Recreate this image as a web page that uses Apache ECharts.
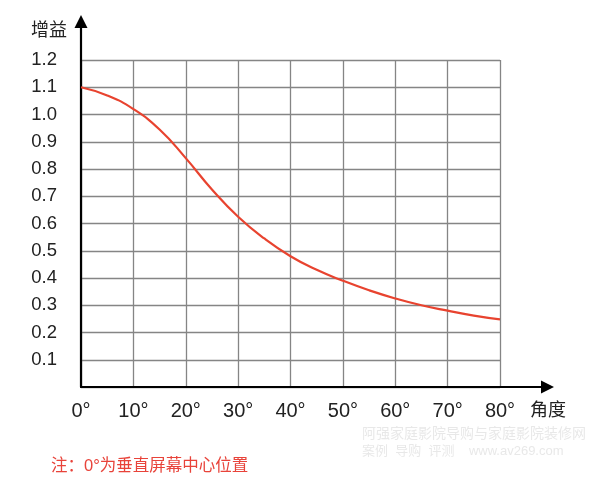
<!DOCTYPE html>
<html>
<head>
<meta charset="utf-8">
<script src="https://cdn.jsdelivr.net/npm/echarts@6/dist/echarts.min.js"></script>
<style>html,body{margin:0;padding:0;background:#fff}#c{width:603px;height:477px}</style>
</head>
<body>
<div id="c"></div>
<script>
var angles = [0, 5, 10, 15, 20, 25, 30, 35, 40, 45, 50, 55, 60, 65, 70, 75, 80];
var gains = [1.10, 1.07, 1.02, 0.945, 0.84, 0.725, 0.625, 0.545, 0.48, 0.43, 0.39, 0.355, 0.325, 0.30, 0.28, 0.262, 0.248];
var yTitle = '增益';
var xTitle = '角度';
var note = '注：0°为垂直屏幕中心位置';
var watermark1 = '阿强家庭影院导购与家庭影院装修网';
var watermark2 = '案例  导购  评测    www.av269.com';

var font = '"Liberation Sans", Arial, "Noto Sans CJK SC", sans-serif';
var chart = echarts.init(document.getElementById('c'), null, {renderer: 'canvas'});
chart.setOption({
  animation: false,
  backgroundColor: '#fff',
  title: [
    {text: yTitle, left: 26, top: 17, textStyle: {fontFamily: font, fontSize: 18, fontWeight: 'normal', color: '#222'}},
    {text: xTitle, left: 525, top: 397, textStyle: {fontFamily: font, fontSize: 18, fontWeight: 'normal', color: '#222'}},
    {text: note, left: 46, top: 453, textStyle: {fontFamily: font, fontSize: 16.5, fontWeight: 'normal', color: '#e8433a'}},
    {text: watermark1, left: 357, top: 422, textStyle: {fontFamily: font, fontSize: 14, fontWeight: 'normal', color: 'rgba(205,205,205,0.45)'}},
    {text: watermark2, left: 357, top: 440, textStyle: {fontFamily: font, fontSize: 13, fontWeight: 'normal', color: 'rgba(205,205,205,0.45)'}}
  ],
  grid: [
    {left: 81, right: 103, top: 60, bottom: 90},
    {left: 81, right: 55.5, top: 21.5, bottom: 90}
  ],
  xAxis: [
    {
      type: 'value', gridIndex: 0, min: 0, max: 80, interval: 10,
      axisLine: {show: false}, axisTick: {show: false},
      axisLabel: {formatter: function (v) { return v + '°'; }, fontFamily: font, fontSize: 20, color: '#222', margin: 14},
      splitLine: {show: true, lineStyle: {color: '#858585', width: 1.3}}
    },
    {
      type: 'value', gridIndex: 1, min: 0, max: 1,
      axisLine: {show: true, symbol: ['none', 'triangle'], symbolSize: [13, 13], lineStyle: {color: '#000', width: 2.2}},
      axisTick: {show: false}, axisLabel: {show: false}, splitLine: {show: false}
    }
  ],
  yAxis: [
    {
      type: 'value', gridIndex: 0, min: 0, max: 1.2, interval: 0.1,
      axisLine: {show: false}, axisTick: {show: false},
      axisLabel: {formatter: function (v) { return v === 0 ? '' : v.toFixed(1); }, fontFamily: font, fontSize: 18.5, color: '#222', margin: 24},
      splitLine: {show: true, lineStyle: {color: '#858585', width: 1.3}}
    },
    {
      type: 'value', gridIndex: 1, min: 0, max: 1,
      axisLine: {show: true, symbol: ['none', 'triangle'], symbolSize: [13, 13], lineStyle: {color: '#000', width: 2.2}},
      axisTick: {show: false}, axisLabel: {show: false}, splitLine: {show: false}
    }
  ],
  series: [{
    type: 'line', xAxisIndex: 0, yAxisIndex: 0,
    data: angles.map(function (a, i) { return [a, gains[i]]; }),
    smooth: 0.5, showSymbol: false, symbol: 'none',
    lineStyle: {color: '#e8432f', width: 2.2}
  }]
});
</script>
</body>
</html>
